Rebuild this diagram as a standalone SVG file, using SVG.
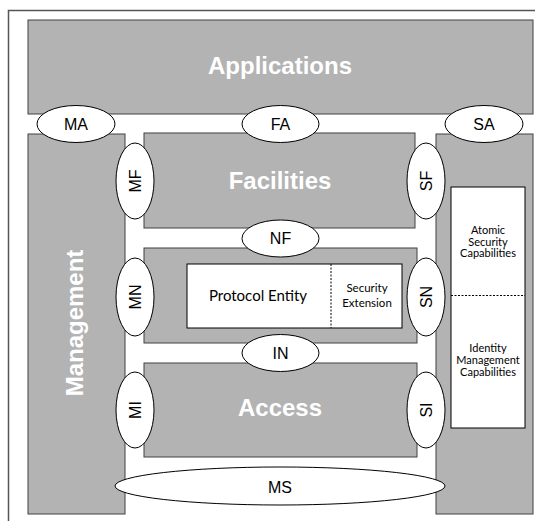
<svg xmlns="http://www.w3.org/2000/svg" width="535" height="521" viewBox="0 0 535 521">
<style>
.blk{fill:#b3b3b3;stroke:#404040;stroke-width:1}
.ell{fill:#fff;stroke:#000;stroke-width:1}
.big{font-family:"Liberation Sans",Arial,sans-serif;font-weight:bold;fill:#fff;text-anchor:middle}
.lbl{font-family:"Liberation Sans",Arial,sans-serif;font-size:16px;fill:#000;text-anchor:middle;dominant-baseline:central}
.sm{font-family:Lato,"Open Sans",sans-serif;fill:#000;text-anchor:middle}
.wb{fill:#fff;stroke:#000;stroke-width:1}
.dash{stroke:#000;stroke-width:1;stroke-dasharray:2,1.5}
</style>
<rect width="535" height="521" fill="#fff"/>
<g id="frame">
<path d="M8.5,521 V10.5 H535" fill="none" stroke="#555" stroke-width="1.5"/>
</g>
<g id="applications">
<rect class="blk" x="28" y="20" width="505" height="94"/>
<text class="big" x="280" y="74" font-size="24">Applications</text>
</g>
<g id="management">
<rect class="blk" x="28" y="134" width="97" height="380"/>
<text class="big" font-size="24" transform="translate(83,323) rotate(-90)">Management</text>
</g>
<g id="security">
<rect class="blk" x="436" y="134" width="97" height="380"/>
<rect class="wb" x="451" y="187" width="74" height="241"/>
<line class="dash" x1="451" y1="295.5" x2="525" y2="295.5"/>
<text class="sm" font-size="11"><tspan x="488" y="234">Atomic</tspan><tspan x="488" y="245.5">Security</tspan><tspan x="488" y="257">Capabilities</tspan></text>
<text class="sm" font-size="11"><tspan x="488" y="352">Identity</tspan><tspan x="488" y="364">Management</tspan><tspan x="488" y="376">Capabilities</tspan></text>
</g>
<g id="facilities">
<rect class="blk" x="144" y="133" width="271" height="95"/>
<text class="big" x="280" y="189" font-size="24">Facilities</text>
</g>
<g id="networking">
<rect class="blk" x="144" y="248" width="273" height="95"/>
<rect class="wb" x="187" y="264" width="215" height="64"/>
<line class="dash" x1="331" y1="264" x2="331" y2="328"/>
<text class="sm" x="258" y="301" font-size="15">Protocol Entity</text>
<text class="sm" font-size="11.5"><tspan x="367" y="292">Security</tspan><tspan x="367" y="307">Extension</tspan></text>
</g>
<g id="access">
<rect class="blk" x="144" y="363" width="273" height="94"/>
<text class="big" x="280" y="416" font-size="24">Access</text>
</g>
<g id="interfaces">
<g id="MA"><ellipse class="ell" cx="76" cy="124" rx="39" ry="18.5"/><text class="lbl" x="76" y="124">MA</text></g>
<g id="FA"><ellipse class="ell" cx="280.5" cy="124" rx="38.5" ry="18.5"/><text class="lbl" x="280.5" y="124">FA</text></g>
<g id="SA"><ellipse class="ell" cx="484" cy="124" rx="39" ry="18.5"/><text class="lbl" x="484" y="124">SA</text></g>
<g id="NF"><ellipse class="ell" cx="280.5" cy="238.5" rx="38.5" ry="18.5"/><text class="lbl" x="280.5" y="238.5">NF</text></g>
<g id="IN"><ellipse class="ell" cx="280.5" cy="353" rx="38.5" ry="18.5"/><text class="lbl" x="280.5" y="353">IN</text></g>
<g id="MS"><ellipse class="ell" cx="280" cy="486" rx="165" ry="19"/><text class="lbl" x="280" y="487">MS</text></g>
<g id="MF"><ellipse class="ell" cx="135" cy="181" rx="19" ry="38"/><text class="lbl" transform="translate(135,181) rotate(-90)">MF</text></g>
<g id="MN"><ellipse class="ell" cx="135" cy="297" rx="19" ry="39"/><text class="lbl" transform="translate(135,297) rotate(-90)">MN</text></g>
<g id="MI"><ellipse class="ell" cx="135" cy="410" rx="19" ry="38"/><text class="lbl" transform="translate(135,410) rotate(-90)">MI</text></g>
<g id="SF"><ellipse class="ell" cx="426" cy="181" rx="19" ry="38"/><text class="lbl" transform="translate(426,181) rotate(-90)">SF</text></g>
<g id="SN"><ellipse class="ell" cx="426" cy="297" rx="19" ry="39"/><text class="lbl" transform="translate(426,297) rotate(-90)">SN</text></g>
<g id="SI"><ellipse class="ell" cx="426" cy="410" rx="19" ry="38"/><text class="lbl" transform="translate(426,410) rotate(-90)">SI</text></g>
</g>
<g id="connectors"></g>
</svg>
